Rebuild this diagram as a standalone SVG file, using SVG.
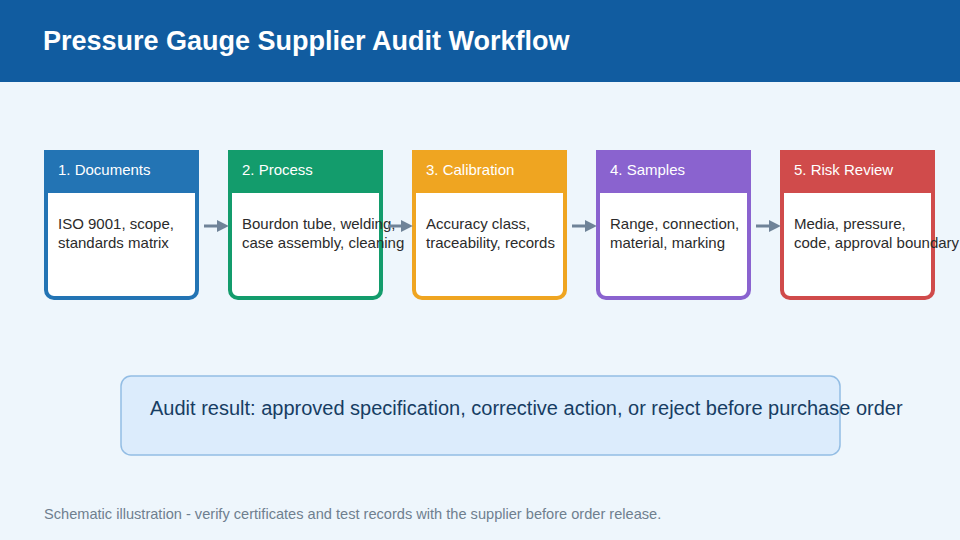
<svg xmlns="http://www.w3.org/2000/svg" width="960" height="540" viewBox="0 0 960 540">
<defs>
<style>
text{font-family:"Liberation Sans",Arial,sans-serif}
.h{fill:#fff;font-size:15px}
.b{fill:#2b2b2b;font-size:15px}
.card{fill:#fff;stroke-width:4}
.con{stroke:#6f8398;stroke-width:3;fill:none;marker-end:url(#ah)}
</style>
<marker id="ah" viewBox="0 0 10 10" refX="6" refY="5" markerWidth="4" markerHeight="4" orient="auto"><path d="M0,0L10,5L0,10z" fill="#6f8398"/></marker>
</defs>
<rect width="960" height="540" fill="#eef6fc"/>
<rect width="960" height="82" fill="#115ca0"/>
<text x="43" y="50" font-size="27" font-weight="bold" fill="#fff">Pressure Gauge Supplier Audit Workflow</text>
<g id="n1"><rect class="card" x="46" y="152" width="151" height="146" rx="8" stroke="#2374b4"/><path d="M44,150h155v43h-155z" fill="#2374b4"/><text class="h" x="58" y="175">1. Documents</text><text class="b" x="58" y="229">ISO 9001, scope,</text><text class="b" x="58" y="248">standards matrix</text></g>
<g id="n2"><rect class="card" x="230" y="152" width="151" height="146" rx="8" stroke="#139c6c"/><path d="M228,150h155v43h-155z" fill="#139c6c"/><text class="h" x="242" y="175">2. Process</text><text class="b" x="242" y="229">Bourdon tube, welding,</text><text class="b" x="242" y="248">case assembly, cleaning</text></g>
<g id="n3"><rect class="card" x="414" y="152" width="151" height="146" rx="8" stroke="#efa521"/><path d="M412,150h155v43h-155z" fill="#efa521"/><text class="h" x="426" y="175">3. Calibration</text><text class="b" x="426" y="229">Accuracy class,</text><text class="b" x="426" y="248">traceability, records</text></g>
<g id="n4"><rect class="card" x="598" y="152" width="151" height="146" rx="8" stroke="#8a63cf"/><path d="M596,150h155v43h-155z" fill="#8a63cf"/><text class="h" x="610" y="175">4. Samples</text><text class="b" x="610" y="229">Range, connection,</text><text class="b" x="610" y="248">material, marking</text></g>
<g id="n5"><rect class="card" x="782" y="152" width="151" height="146" rx="8" stroke="#d04b4b"/><path d="M780,150h155v43h-155z" fill="#d04b4b"/><text class="h" x="794" y="175">5. Risk Review</text><text class="b" x="794" y="229">Media, pressure,</text><text class="b" x="794" y="248">code, approval boundary</text></g>
<g id="connectors">
<path class="con" d="M204,226H224"/><path class="con" d="M388,226H408"/><path class="con" d="M572,226H592"/><path class="con" d="M756,226H776"/>
</g>
<g id="result"><rect x="121" y="376" width="719" height="79" rx="10" fill="#dcecfc" stroke="#93bde4" stroke-width="1.5"/><text x="150" y="415" font-size="20" fill="#173d63">Audit result: approved specification, corrective action, or reject before purchase order</text></g>
<text x="44" y="519" font-size="14.6" fill="#6f7f8f">Schematic illustration - verify certificates and test records with the supplier before order release.</text>
</svg>
